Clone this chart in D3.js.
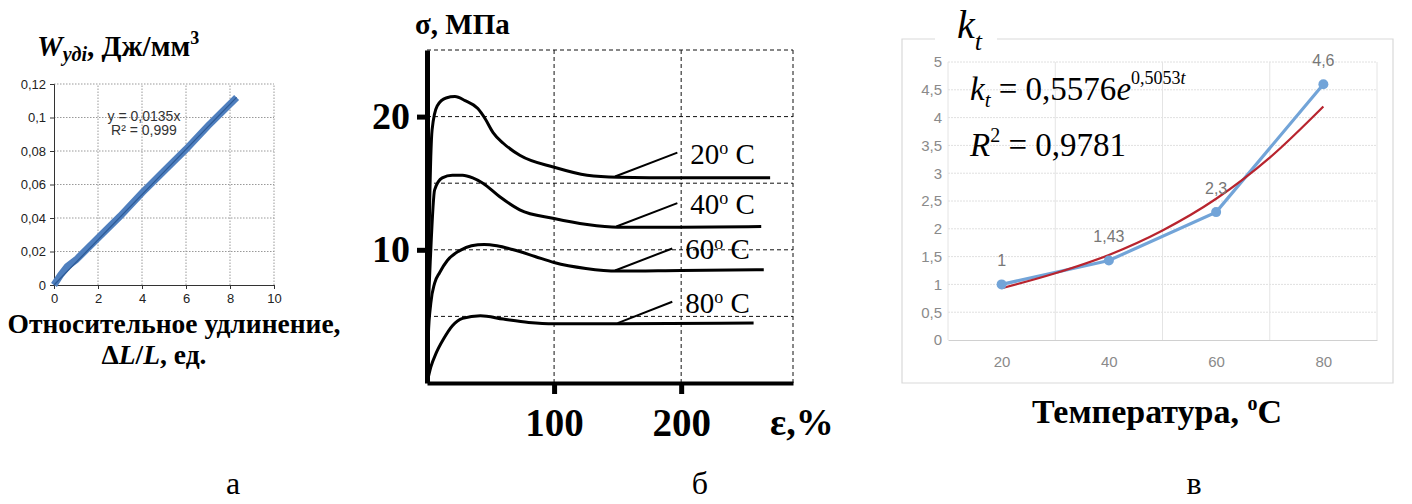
<!DOCTYPE html>
<html>
<head>
<meta charset="utf-8">
<script src="https://cdn.jsdelivr.net/npm/d3@7"></script>
<style>
  body { margin: 0; background: #fff; }
  svg { display: block; }
</style>
</head>
<body>
<svg id="fig" width="1412" height="504"></svg>
<script>
// ---- panel а: energy vs relative elongation
const aStrain = [0, 0.3, 0.6, 1, 2, 3, 4, 5, 6, 7, 8.3];
const aEnergy = [0, 0.006, 0.011, 0.015, 0.028, 0.041, 0.055, 0.068, 0.081, 0.095, 0.112];
const aTrendX = [0, 8.3];
const aTrendY = [0, 0.112];
const aTicksX = [0, 2, 4, 6, 8, 10];
const aTicksY = [0, 0.02, 0.04, 0.06, 0.08, 0.1, 0.12];

// ---- panel б: stress-strain curves
const bLabels = ["20", "40", "60", "80"];
const bStrain = [
  [0, 1, 2, 4, 8, 15, 22, 30, 40, 46, 52, 60, 73, 100, 126, 150, 200, 270],
  [0, 1, 3, 6, 12, 20, 28, 36, 44, 57, 73, 100, 126, 150, 200, 263],
  [0, 1, 3, 6, 10, 16, 25, 35, 45, 55, 68, 85, 100, 125, 150, 200, 265],
  [0, 3, 7, 13, 20, 28, 42, 60, 80, 100, 150, 257]
];
const bStress = [
  [0, 7, 13, 19, 20.8, 21.4, 21.5, 21.2, 20.6, 19.8, 18.8, 18.0, 17.1, 16.2, 15.6, 15.45, 15.4, 15.4],
  [0, 5, 10, 14.5, 15.4, 15.6, 15.6, 15.4, 15.0, 14.0, 13.0, 12.35, 11.9, 11.7, 11.7, 11.75],
  [0, 3.5, 6, 7.5, 8.3, 9.2, 9.9, 10.3, 10.4, 10.3, 10, 9.5, 9.05, 8.6, 8.4, 8.45, 8.5],
  [0, 1.2, 2.2, 3.3, 4.3, 4.85, 5.05, 4.8, 4.55, 4.45, 4.45, 4.5]
];
// leader lines: from curve point to the label
const bLeadFrom = [[148, 15.5], [149, 11.75], [148, 8.45], [150, 4.5]];
const bLeadTo = [[197, 17.3], [197, 13.5], [193, 10.1], [193, 6.1]];
const bTicksX = [100, 200];
const bTicksY = [10, 20];
const bGridX = [100, 200, 288];
const bGridY = [5, 10, 15, 20, 25];

// ---- panel в: coefficient k_t vs temperature
const cTemps = [20, 40, 60, 80];
const cValues = [1, 1.43, 2.3, 4.6];
const cValueLabels = ["1", "1,43", "2,3", "4,6"];
const cTrendT = [20, 30, 40, 50, 60, 70, 80];
const cTrendK = [0.93, 1.2, 1.53, 1.97, 2.54, 3.28, 4.2];
const cTicksY = [0, 0.5, 1, 1.5, 2, 2.5, 3, 3.5, 4, 4.5, 5];
const cGridX = [10, 30, 50, 70, 90];

const svg = d3.select("#fig");
const serif = "'Liberation Serif', 'Times New Roman', serif";
const sans = "'Liberation Sans', Arial, sans-serif";
const comma = d => String(d).replace(".", ",");

// ================= panel а =================
const ax = d3.scaleLinear().domain([0, 10]).range([54, 274]);
const ay = d3.scaleLinear().domain([0, 0.12]).range([285, 84]);
const ga = svg.append("g");

ga.append("g").selectAll("line").data(aTicksY.slice(1)).join("line")
  .attr("x1", ax(0)).attr("x2", ax(10))
  .attr("y1", d => ay(d)).attr("y2", d => ay(d))
  .attr("stroke", "#999").attr("stroke-dasharray", "1.5,1.5");
ga.append("g").selectAll("line").data(aTicksX.slice(1)).join("line")
  .attr("x1", d => ax(d)).attr("x2", d => ax(d))
  .attr("y1", ay(0)).attr("y2", ay(0.12))
  .attr("stroke", "#999").attr("stroke-dasharray", "1.5,1.5");

ga.append("g")
  .attr("transform", `translate(0,${ay(0)})`)
  .call(d3.axisBottom(ax).tickValues(aTicksX).tickSize(4).tickPadding(5).tickFormat(d3.format("d")))
  .call(g => g.selectAll("text").attr("font-family", sans).attr("font-size", 13).attr("fill", "#222"))
  .call(g => g.selectAll("line, path").attr("stroke", "#333"));
ga.append("g")
  .attr("transform", `translate(${ax(0)},0)`)
  .call(d3.axisLeft(ay).tickValues(aTicksY).tickSize(4).tickPadding(4).tickFormat(comma))
  .call(g => g.selectAll("text").attr("font-family", sans).attr("font-size", 13).attr("fill", "#222"))
  .call(g => g.selectAll("line, path").attr("stroke", "#333"));

ga.append("path")
  .datum(aStrain.map((x, i) => [x, aEnergy[i]]))
  .attr("fill", "none").attr("stroke", "#4f7fbe").attr("stroke-width", 7)
  .attr("d", d3.line().x(d => ax(d[0])).y(d => ay(d[1])));
ga.append("path")
  .datum(aTrendX.map((x, i) => [x, aTrendY[i]]))
  .attr("fill", "none").attr("stroke", "#2c5a96").attr("stroke-width", 1.2)
  .attr("d", d3.line().x(d => ax(d[0])).y(d => ay(d[1])));

ga.append("text").attr("x", 144).attr("y", 121).attr("text-anchor", "middle")
  .attr("font-family", sans).attr("font-size", 14).attr("fill", "#333").text("y = 0,0135x");
ga.append("text").attr("x", 144).attr("y", 135).attr("text-anchor", "middle")
  .attr("font-family", sans).attr("font-size", 14).attr("fill", "#333").text("R² = 0,999");

const aTitle = ga.append("text").attr("x", 37).attr("y", 56)
  .attr("font-family", serif).attr("font-weight", "bold").attr("font-size", 29);
aTitle.append("tspan").attr("font-style", "italic").text("W");
aTitle.append("tspan").attr("font-style", "italic").attr("font-size", 20).attr("dy", 5).text("удi");
aTitle.append("tspan").attr("dy", -5).text(", Дж/мм");
aTitle.append("tspan").attr("font-size", 18).attr("dy", -12).text("3");

ga.append("text").attr("x", 174).attr("y", 333).attr("text-anchor", "middle")
  .attr("font-family", serif).attr("font-weight", "bold").attr("font-size", 27.5)
  .text("Относительное удлинение,");
const aX2 = ga.append("text").attr("x", 154).attr("y", 364).attr("text-anchor", "middle")
  .attr("font-family", serif).attr("font-weight", "bold").attr("font-size", 27.5);
aX2.append("tspan").text("Δ");
aX2.append("tspan").attr("font-style", "italic").text("L");
aX2.append("tspan").text("/");
aX2.append("tspan").attr("font-style", "italic").text("L");
aX2.append("tspan").text(", ед.");

// ================= panel б =================
const bx = d3.scaleLinear().domain([0, 288]).range([427, 793]);
const by = d3.scaleLinear().domain([0, 25]).range([383, 50]);
const gb = svg.append("g");

gb.append("g").selectAll("line").data(bGridY).join("line")
  .attr("x1", bx(0)).attr("x2", bx(288))
  .attr("y1", d => by(d)).attr("y2", d => by(d))
  .attr("stroke", "#111").attr("stroke-dasharray", "4,3");
gb.append("g").selectAll("line").data(bGridX).join("line")
  .attr("x1", d => bx(d)).attr("x2", d => bx(d))
  .attr("y1", by(0)).attr("y2", by(25))
  .attr("stroke", "#111").attr("stroke-dasharray", "4,3");

gb.append("g")
  .attr("transform", `translate(0,${by(0)})`)
  .call(d3.axisBottom(bx).tickValues(bTicksX).tickSize(11).tickSizeOuter(0).tickPadding(14))
  .call(g => g.select(".domain").attr("stroke", "#000").attr("stroke-width", 4))
  .call(g => g.selectAll(".tick line").attr("stroke", "#000").attr("stroke-width", 5))
  .call(g => g.selectAll("text").attr("font-family", serif).attr("font-weight", "bold")
    .attr("font-size", 39).attr("fill", "#000"));
gb.append("g")
  .attr("transform", `translate(${bx(0)},0)`)
  .call(d3.axisLeft(by).tickValues(bTicksY).tickSize(10).tickSizeOuter(0).tickPadding(7))
  .call(g => g.select(".domain").attr("stroke", "#000").attr("stroke-width", 5))
  .call(g => g.selectAll(".tick line").attr("stroke", "#000").attr("stroke-width", 5))
  .call(g => g.selectAll("text").attr("font-family", serif).attr("font-weight", "bold")
    .attr("font-size", 38).attr("fill", "#000"));

const bLine = d3.line().curve(d3.curveMonotoneX)
  .x(d => bx(d[0])).y(d => by(d[1]));
gb.append("g").selectAll("path").data(bStrain).join("path")
  .attr("fill", "none").attr("stroke", "#000").attr("stroke-width", 3)
  .attr("d", (s, i) => bLine(s.map((x, j) => [x, bStress[i][j]])));

gb.append("g").selectAll("line").data(bLeadFrom).join("line")
  .attr("x1", d => bx(d[0])).attr("y1", d => by(d[1]))
  .attr("x2", (d, i) => bx(bLeadTo[i][0])).attr("y2", (d, i) => by(bLeadTo[i][1]))
  .attr("stroke", "#000").attr("stroke-width", 2);

const bTxt = gb.append("g").selectAll("text").data(bLabels).join("text")
  .attr("x", (d, i) => bx(bLeadTo[i][0]) + 13)
  .attr("y", (d, i) => by(bLeadTo[i][1]) + 11)
  .attr("font-family", serif).attr("font-size", 29).attr("fill", "#000");
bTxt.append("tspan").text(d => d);
bTxt.append("tspan").attr("font-size", 18).attr("dy", -10).text("o");
bTxt.append("tspan").attr("dy", 10).text(" C");

gb.append("text").attr("x", 415).attr("y", 34)
  .attr("font-family", serif).attr("font-weight", "bold").attr("font-size", 29).text("σ, МПа");
gb.append("text").attr("x", 770).attr("y", 435)
  .attr("font-family", serif).attr("font-weight", "bold").attr("font-size", 38).text("ε,%");

// ================= panel в =================
const cx = d3.scaleLinear().domain([10, 90]).range([948, 1377]);
const cy = d3.scaleLinear().domain([0, 5]).range([340, 62]);
const gc = svg.append("g");

// outer chart frame with a gap for the k_t label
gc.append("path")
  .attr("d", "M935,39 H902 V383 H1393 V39 H997")
  .attr("fill", "none").attr("stroke", "#d9d9d9").attr("stroke-width", 1.2);

gc.append("g").selectAll("line").data(cTicksY.slice(1)).join("line")
  .attr("x1", cx(10)).attr("x2", cx(90))
  .attr("y1", d => cy(d)).attr("y2", d => cy(d))
  .attr("stroke", "#e0e0e0").attr("stroke-dasharray", "2,1");
gc.append("g").selectAll("line").data(cGridX).join("line")
  .attr("x1", d => cx(d)).attr("x2", d => cx(d))
  .attr("y1", cy(0)).attr("y2", cy(5))
  .attr("stroke", "#e4e4e4");

gc.append("g")
  .attr("transform", `translate(0,${cy(0)})`)
  .call(d3.axisBottom(cx).tickValues(cTemps).tickSize(0).tickPadding(16).tickFormat(d3.format("d")))
  .call(g => g.select(".domain").attr("stroke", "#d0d0d0"))
  .call(g => g.selectAll("text").attr("font-family", sans).attr("font-size", 15).attr("fill", "#8a8a8a"));
gc.append("g")
  .attr("transform", `translate(${cx(10)},0)`)
  .call(d3.axisLeft(cy).tickValues(cTicksY).tickSize(0).tickPadding(6).tickFormat(comma))
  .call(g => g.select(".domain").remove())
  .call(g => g.selectAll("text").attr("font-family", sans).attr("font-size", 15).attr("fill", "#8a8a8a"));

gc.append("path")
  .datum(cTemps.map((t, i) => [t, cValues[i]]))
  .attr("fill", "none").attr("stroke", "#72a4d8").attr("stroke-width", 3.2)
  .attr("d", d3.line().x(d => cx(d[0])).y(d => cy(d[1])));
gc.append("path")
  .datum(cTrendT.map((t, i) => [t, cTrendK[i]]))
  .attr("fill", "none").attr("stroke", "#b8242e").attr("stroke-width", 2.2)
  .attr("d", d3.line().curve(d3.curveMonotoneX).x(d => cx(d[0])).y(d => cy(d[1])));
gc.append("g").selectAll("circle").data(cTemps).join("circle")
  .attr("cx", d => cx(d)).attr("cy", (d, i) => cy(cValues[i]))
  .attr("r", 5).attr("fill", "#72a4d8");
gc.append("g").selectAll("text").data(cValueLabels).join("text")
  .attr("x", (d, i) => cx(cTemps[i])).attr("y", (d, i) => cy(cValues[i]) - 18)
  .attr("text-anchor", "middle")
  .attr("font-family", sans).attr("font-size", 16).attr("fill", "#777").text(d => d);

// k_t label
const kLab = gc.append("text").attr("x", 957).attr("y", 38)
  .attr("font-family", serif).attr("font-style", "italic").attr("font-size", 40);
kLab.append("tspan").text("k");
kLab.append("tspan").attr("font-size", 26).attr("dy", 12).text("t");

// equation
const eq = gc.append("text").attr("x", 970).attr("y", 100)
  .attr("font-family", serif).attr("font-size", 33);
eq.append("tspan").attr("font-style", "italic").text("k");
eq.append("tspan").attr("font-style", "italic").attr("font-size", 21).attr("dy", 7).text("t");
eq.append("tspan").attr("dy", -7).text(" = 0,5576");
eq.append("tspan").attr("font-style", "italic").text("e");
eq.append("tspan").attr("font-size", 18).attr("dy", -16).text("0,5053");
eq.append("tspan").attr("font-size", 18).attr("font-style", "italic").text("t");

const r2 = gc.append("text").attr("x", 970).attr("y", 156)
  .attr("font-family", serif).attr("font-size", 33);
r2.append("tspan").attr("font-style", "italic").text("R");
r2.append("tspan").attr("font-size", 20).attr("dy", -14).text("2");
r2.append("tspan").attr("dy", 14).text(" = 0,9781");

gc.append("text").attr("x", 1157).attr("y", 423).attr("text-anchor", "middle")
  .attr("font-family", serif).attr("font-weight", "bold").attr("font-size", 34)
  .call(t => {
    t.append("tspan").text("Температура, ");
    t.append("tspan").attr("font-size", 20).attr("dy", -13).text("o");
    t.append("tspan").attr("dy", 13).text("C");
  });

// panel captions
svg.append("g").selectAll("text").data([["а", 233], ["б", 700], ["в", 1194]]).join("text")
  .attr("x", d => d[1]).attr("y", 494).attr("text-anchor", "middle")
  .attr("font-family", serif).attr("font-size", 32).text(d => d[0]);
</script>
</body>
</html>
